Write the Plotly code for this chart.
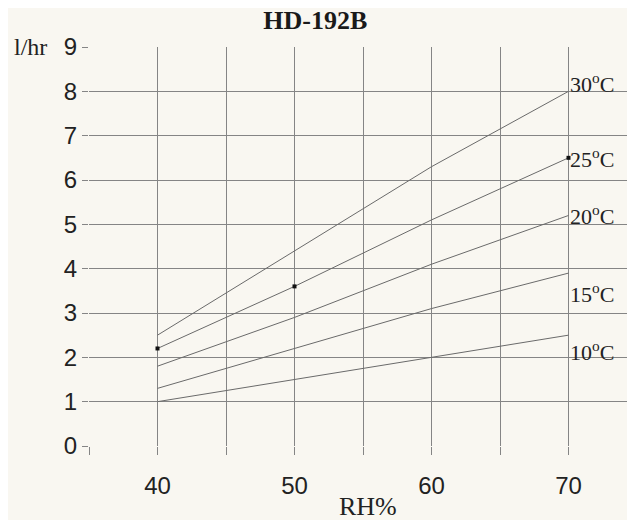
import plotly.graph_objects as go

rh = [40, 50, 60, 70]
temps = ["30", "25", "20", "15", "10"]
s30 = [2.5, 4.4, 6.3, 8.0]
s25 = [2.2, 3.6, 5.1, 6.5]
s20 = [1.8, 2.9, 4.1, 5.2]
s15 = [1.3, 2.2, 3.1, 3.9]
s10 = [1.0, 1.5, 2.0, 2.5]
series = [s30, s25, s20, s15, s10]
dot_idx = [0, 1, 3]  # points of the 25°C curve carrying a small dot
label_shift = [8, 0, 0, -20, -16]

bg = "#f9f7f1"
grid = "#858585"
line_col = "#6a6a6a"

fig = go.Figure()
for t, s in zip(temps, series):
    fig.add_trace(go.Scatter(x=rh, y=s, mode="lines", name=t + "°C",
                             line=dict(color=line_col, width=1), showlegend=False))
fig.add_trace(go.Scatter(x=[rh[i] for i in dot_idx], y=[s25[i] for i in dot_idx],
                         mode="markers", marker=dict(symbol="square", size=4, color="#111"),
                         showlegend=False))

serif = "Liberation Serif, Times New Roman, serif"
sans = "Liberation Sans, Arial, sans-serif"
for t, s, sh in zip(temps, series, label_shift):
    fig.add_annotation(x=rh[-1], y=s[-1], text=t + "<sup>o</sup>C", showarrow=False,
                       xanchor="left", yanchor="middle", yshift=sh, xshift=-1,
                       font=dict(family=serif, size=22, color="#222"))

fig.add_annotation(xref="paper", yref="y", x=0, y=9, text="l/hr", showarrow=False,
                   xanchor="right", yanchor="middle", xshift=-40,
                   font=dict(family=serif, size=24, color="#222"))
fig.add_annotation(xref="paper", yref="paper", x=0.5, y=0, text="RH%", showarrow=False,
                   xanchor="center", yanchor="middle", yshift=-60, xshift=5,
                   font=dict(family=serif, size=26, color="#222"))

fig.update_layout(
    width=635, height=520,
    margin=dict(l=81, r=6, t=39, b=82),
    paper_bgcolor=bg, plot_bgcolor=bg,
    title=dict(text="<b>HD-192B</b>", x=0.484, xanchor="center", xref="container",
               y=0.978, yanchor="middle", yref="container",
               font=dict(family=serif, size=26, color="#1a1a1a")),
    showlegend=False,
)
fig.update_xaxes(range=[35, 75], tick0=0, dtick=10, ticks="outside", ticklen=8,
                 tickcolor=grid, showgrid=True, gridcolor=grid, gridwidth=1,
                 zeroline=False, showline=False, ticklabelstandoff=10, automargin=False,
                 minor=dict(dtick=5, tick0=0, ticks="outside", ticklen=8, tickcolor=grid,
                            showgrid=True, gridcolor=grid, gridwidth=1),
                 tickfont=dict(family=sans, size=24, color="#222"))
fig.update_yaxes(range=[0, 9], dtick=1, ticks="outside", ticklen=6, tickcolor=grid,
                 showgrid=True, gridcolor=grid, gridwidth=1, zeroline=False, showline=False,
                 automargin=False,
                 tickfont=dict(family=sans, size=24, color="#222"))

fig.write_html("out.html")
